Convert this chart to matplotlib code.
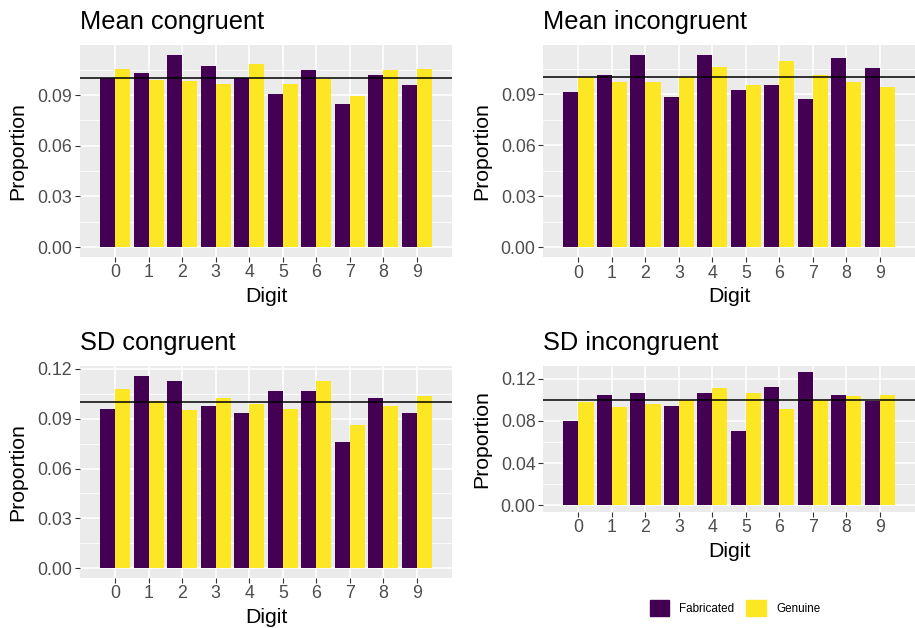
import matplotlib
matplotlib.use('Agg')
import matplotlib.pyplot as plt
from matplotlib.patches import Patch
from matplotlib.ticker import MultipleLocator, FormatStrFormatter

plt.rcParams['font.family'] = ['Liberation Sans', 'DejaVu Sans']

digits = list(range(10))
groups = ['Fabricated', 'Genuine']
colors = ['#440154', '#FDE725']

# proportions
mean_cong_fab = [0.1000, 0.1030, 0.1140, 0.1071, 0.1000, 0.0905, 0.1048, 0.0845, 0.1018, 0.0958]
mean_cong_gen = [0.1054, 0.0990, 0.0982, 0.0964, 0.1083, 0.0964, 0.0998, 0.0893, 0.1048, 0.1054]
mean_inc_fab = [0.0916, 0.1016, 0.1133, 0.0886, 0.1133, 0.0928, 0.0957, 0.0875, 0.1115, 0.1057]
mean_inc_gen = [0.1000, 0.0975, 0.0975, 0.1000, 0.1063, 0.0957, 0.1098, 0.1016, 0.0975, 0.0945]
sd_cong_fab = [0.0956, 0.1160, 0.1130, 0.0974, 0.0932, 0.1070, 0.1070, 0.0758, 0.1028, 0.0932]
sd_cong_gen = [0.1082, 0.1006, 0.0950, 0.1028, 0.0988, 0.0956, 0.1130, 0.0860, 0.0974, 0.1040]
sd_inc_fab = [0.0798, 0.1045, 0.1064, 0.0940, 0.1064, 0.0703, 0.1121, 0.1263, 0.1045, 0.0993]
sd_inc_gen = [0.0978, 0.0931, 0.0959, 0.0997, 0.1111, 0.1064, 0.0912, 0.0997, 0.1035, 0.1045]

titles = ['Mean congruent', 'Mean incongruent', 'SD congruent', 'SD incongruent']
steps = [0.03, 0.03, 0.03, 0.04]

W, H = 915, 628
# panel boxes in pixels: left, top, right, bottom
boxes = [(80, 45, 452, 256.7), (543.3, 45, 915, 257),
         (80, 366, 452, 577.7), (543.3, 365.7, 915, 511.7)]

fig = plt.figure(figsize=(W / 100, H / 100), dpi=100)

data = [(mean_cong_fab, mean_cong_gen), (mean_inc_fab, mean_inc_gen),
        (sd_cong_fab, sd_cong_gen), (sd_inc_fab, sd_inc_gen)]

for (fab, gen), title, step, (l, t, r, b) in zip(data, titles, steps, boxes):
    ax = fig.add_axes([l / W, 1 - b / H, (r - l) / W, (b - t) / H])
    ax.set_facecolor('#EBEBEB')
    ax.bar([d - 0.225 for d in digits], fab, width=0.45, color=colors[0], zorder=2)
    ax.bar([d + 0.225 for d in digits], gen, width=0.45, color=colors[1], zorder=2)
    ax.axhline(0.1, color='black', lw=1.1, zorder=3)
    top = max(max(fab), max(gen))
    ax.set_ylim(-0.05 * top, 1.05 * top)
    ax.set_xlim(-1.05, 10.05)
    ax.set_xticks(digits)
    ax.yaxis.set_major_locator(MultipleLocator(step))
    ax.yaxis.set_minor_locator(MultipleLocator(step / 2))
    ax.yaxis.set_major_formatter(FormatStrFormatter('%.2f'))
    ax.grid(which='major', color='white', lw=1.1, zorder=1)
    ax.grid(which='minor', axis='y', color='white', lw=0.55, zorder=1)
    ax.set_axisbelow(True)
    for s in ax.spines.values():
        s.set_visible(False)
    ax.tick_params(which='major', length=3.6, width=0.8, color='#333333',
                   labelcolor='#4D4D4D', labelsize=12.8, pad=2)
    ax.tick_params(which='minor', length=0)
    ax.set_xlabel('Digit', fontsize=15.3)
    ax.set_ylabel('Proportion', fontsize=15.3, va='center')
    ax.yaxis.set_label_coords(-62 / (r - l), 0.5)
    ax.xaxis.set_label_coords(0.5, -39.5 / (b - t))
    ax.xaxis.label.set_va('center')
    fig.text(l / W, 1 - (t - 16) / H, title, fontsize=18.3, ha='left', va='baseline')

handles = [Patch(color=c, label=g) for c, g in zip(colors, groups)]
fig.legend(handles=handles, loc='center', bbox_to_anchor=(735 / W, 1 - 608 / H),
           ncol=2, frameon=False, fontsize=8.4, handlelength=1.65, handleheight=1.65,
           handletextpad=0.9, columnspacing=1.0)

fig.savefig('out.png', dpi=100)
